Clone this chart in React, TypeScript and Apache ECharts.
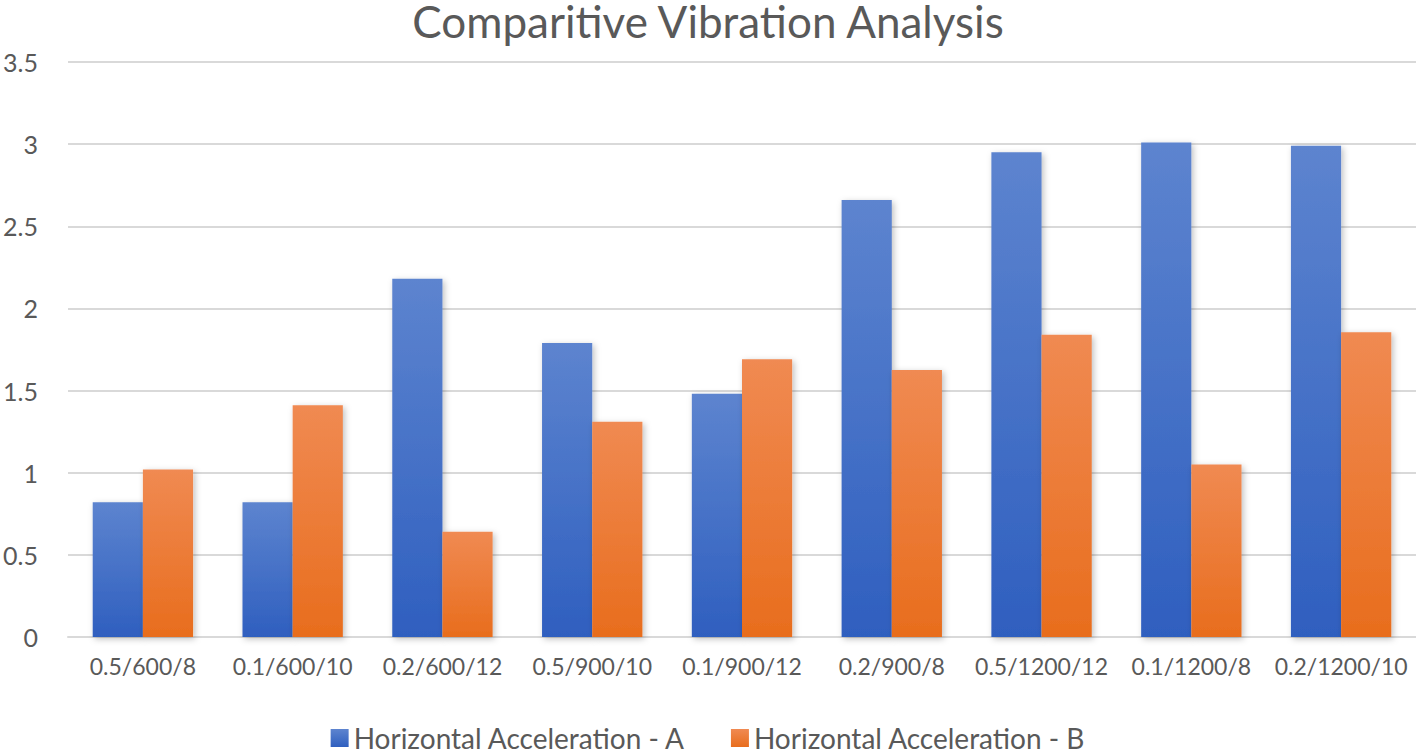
import React, { useEffect, useRef } from "react";
import * as echarts from "echarts";

const categories = [
  "0.5/600/8",
  "0.1/600/10",
  "0.2/600/12",
  "0.5/900/10",
  "0.1/900/12",
  "0.2/900/8",
  "0.5/1200/12",
  "0.1/1200/8",
  "0.2/1200/10",
];
const seriesA = [0.82, 0.82, 2.18, 1.79, 1.48, 2.66, 2.95, 3.01, 2.99];
const seriesB = [1.02, 1.41, 0.64, 1.31, 1.69, 1.625, 1.84, 1.05, 1.855];
const seriesNames = ["Horizontal Acceleration - A", "Horizontal Acceleration - B"];

const FONT = "Lato, 'Open Sans', sans-serif";
const TXT = "#595959";

export default function App() {
  const ref = useRef<HTMLDivElement>(null);
  useEffect(() => {
    if (!ref.current) return;
    const chart = echarts.init(ref.current, null, { renderer: "svg" });
    const grad = (top: string, bottom: string) =>
      new echarts.graphic.LinearGradient(0, 0, 0, 1, [
        { offset: 0, color: top },
        { offset: 1, color: bottom },
      ]);
    chart.setOption({
      animation: false,
      backgroundColor: "#ffffff",
      title: {
        text: "Comparitive Vibration Analysis",
        left: "center",
        top: 0,
        padding: 0,
        textStyle: { fontFamily: FONT, fontSize: 44, lineHeight: 42, fontWeight: "normal", color: TXT },
      },
      legend: {
        bottom: 1,
        left: "center",
        itemWidth: 18,
        itemHeight: 18,
        itemGap: 45,
        icon: "rect",
        padding: [0, 0, 0, 0],
        textStyle: { fontFamily: FONT, fontSize: 28, lineHeight: 28, color: TXT },
        data: seriesNames,
      },
      grid: { left: 68, right: 0, top: 62, bottom: 116, containLabel: false },
      xAxis: {
        type: "category",
        data: categories,
        axisLine: { lineStyle: { color: "#d9d9d9", width: 2 } },
        axisTick: { show: false },
        axisLabel: { fontFamily: FONT, fontSize: 23, color: TXT, margin: 17, interval: 0 },
      },
      yAxis: {
        type: "value",
        min: 0,
        max: 3.5,
        interval: 0.5,
        axisLine: { show: false },
        axisTick: { show: false },
        splitLine: { lineStyle: { color: "#d9d9d9", width: 2 } },
        axisLabel: { fontFamily: FONT, fontSize: 25, color: TXT, margin: 30 },
      },
      series: [
        {
          name: seriesNames[0],
          type: "bar",
          data: seriesA,
          barGap: "0%",
          barCategoryGap: "33%",
          itemStyle: {
            color: grad("#5d84cf", "#2f5fbf"),
            shadowColor: "rgba(0,0,0,0.25)",
            shadowBlur: 6,
            shadowOffsetX: 2,
            shadowOffsetY: 2,
          },
        },
        {
          name: seriesNames[1],
          type: "bar",
          data: seriesB,
          itemStyle: {
            color: grad("#f08a52", "#e86d1d"),
            shadowColor: "rgba(0,0,0,0.25)",
            shadowBlur: 6,
            shadowOffsetX: 2,
            shadowOffsetY: 2,
          },
        },
      ],
    });
    return () => chart.dispose();
  }, []);
  return <div ref={ref} style={{ width: 1416, height: 753, position: "absolute", left: 0, top: 0 }} />;
}
